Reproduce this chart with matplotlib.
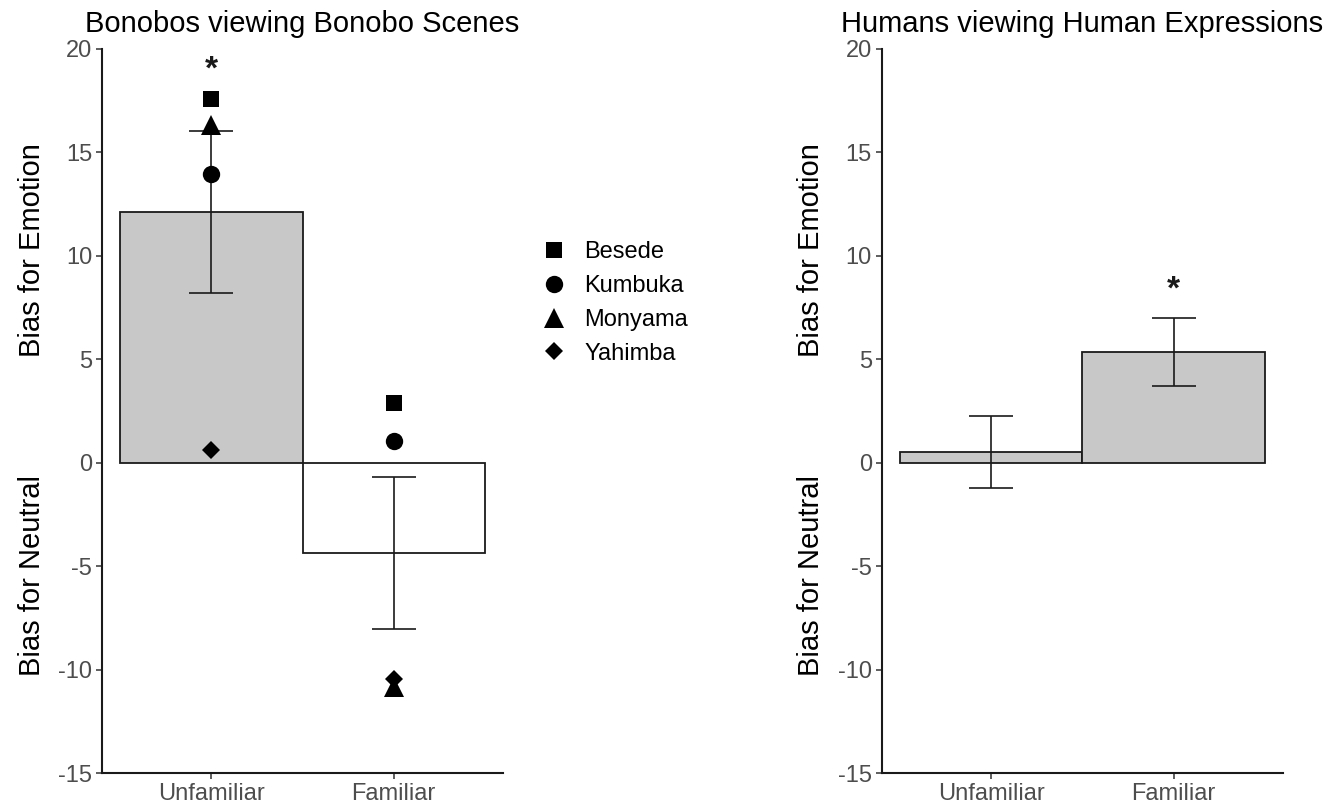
import matplotlib
matplotlib.use("Agg")
import matplotlib.pyplot as plt
from matplotlib.lines import Line2D

plt.rcParams['font.family'] = ['Liberation Sans', 'DejaVu Sans']

conditions = ['Unfamiliar', 'Familiar']

# bonobos viewing bonobo scenes
bonobo_means = [12.1, -4.35]
bonobo_se = [3.9, 3.67]
bonobo_fill = ['#C8C8C8', 'white']
individuals = ['Besede', 'Kumbuka', 'Monyama', 'Yahimba']
ind_markers = ['s', 'o', '^', 'D']
ind_sizes = [12, 12.5, 15, 9]
ind_unfamiliar = [17.55, 13.95, 16.3, 0.62]
ind_familiar = [2.88, 1.03, -10.85, -10.45]
bonobo_star = [18.95, None]

# humans viewing human expressions
human_means = [0.5, 5.33]
human_se = [1.75, 1.65]
human_fill = ['#C8C8C8', '#C8C8C8']
human_star = [None, 8.35]

titles = ['Bonobos viewing Bonobo Scenes', 'Humans viewing Human Expressions']
yticks = [-15, -10, -5, 0, 5, 10, 15, 20]

fig = plt.figure(figsize=(13.43, 8.06), dpi=100, facecolor='white')
ax1 = fig.add_axes([0.0760, 0.0409, 0.2986, 0.8989])
ax2 = fig.add_axes([0.6564, 0.0409, 0.2990, 0.8989])


def draw_panel(ax, means, se, fills, stars, title):
    x = list(range(1, len(means) + 1))
    ax.bar(x, means, width=1.0, color=fills, edgecolor='#1a1a1a', linewidth=1.3, zorder=1)
    ax.errorbar(x, means, yerr=se, fmt='none', ecolor='#1a1a1a', elinewidth=1.2,
                capsize=16, capthick=1.2, zorder=3)
    for xi, s in zip(x, stars):
        if s is not None:
            ax.text(xi, s, '*', ha='center', va='center', fontsize=24,
                    fontweight='bold', color='#1a1a1a')
    ax.set_xlim(0.4, 2.6)
    ax.set_ylim(-15, 20)
    ax.set_xticks(x)
    ax.set_xticklabels(conditions)
    ax.set_yticks(yticks)
    ax.set_yticklabels([str(t) for t in yticks])
    ax.tick_params(labelsize=17, labelcolor='#4D4D4D', color='#333333',
                   length=4, width=1.1, pad=3)
    for side in ['top', 'right']:
        ax.spines[side].set_visible(False)
    for side in ['left', 'bottom']:
        ax.spines[side].set_linewidth(1.5)
        ax.spines[side].set_color('#1a1a1a')
    ax.set_title(title, fontsize=21, pad=12)
    ax.text(-0.175, 0.722, 'Bias for Emotion', transform=ax.transAxes, rotation=90,
            ha='center', va='center', fontsize=21)
    ax.text(-0.175, 0.273, 'Bias for Neutral', transform=ax.transAxes, rotation=90,
            ha='center', va='center', fontsize=21)


draw_panel(ax1, bonobo_means, bonobo_se, bonobo_fill, bonobo_star, titles[0])
draw_panel(ax2, human_means, human_se, human_fill, human_star, titles[1])

# individual bonobos
for i in range(len(individuals)):
    ax1.plot([1, 2], [ind_unfamiliar[i], ind_familiar[i]], linestyle='none',
             marker=ind_markers[i], markersize=ind_sizes[i], color='black',
             markeredgewidth=0, zorder=4)

handles = [Line2D([], [], linestyle='none', marker=m, markersize=s, color='black',
                  markeredgewidth=0) for m, s in zip(ind_markers, ind_sizes)]
fig.legend(handles, individuals, loc='upper left', bbox_to_anchor=(0.386, 0.727),
           frameon=False, fontsize=17, handletextpad=0.7, labelspacing=0.5,
           handlelength=1.2)

fig.savefig('out.png', dpi=100, facecolor='white')
